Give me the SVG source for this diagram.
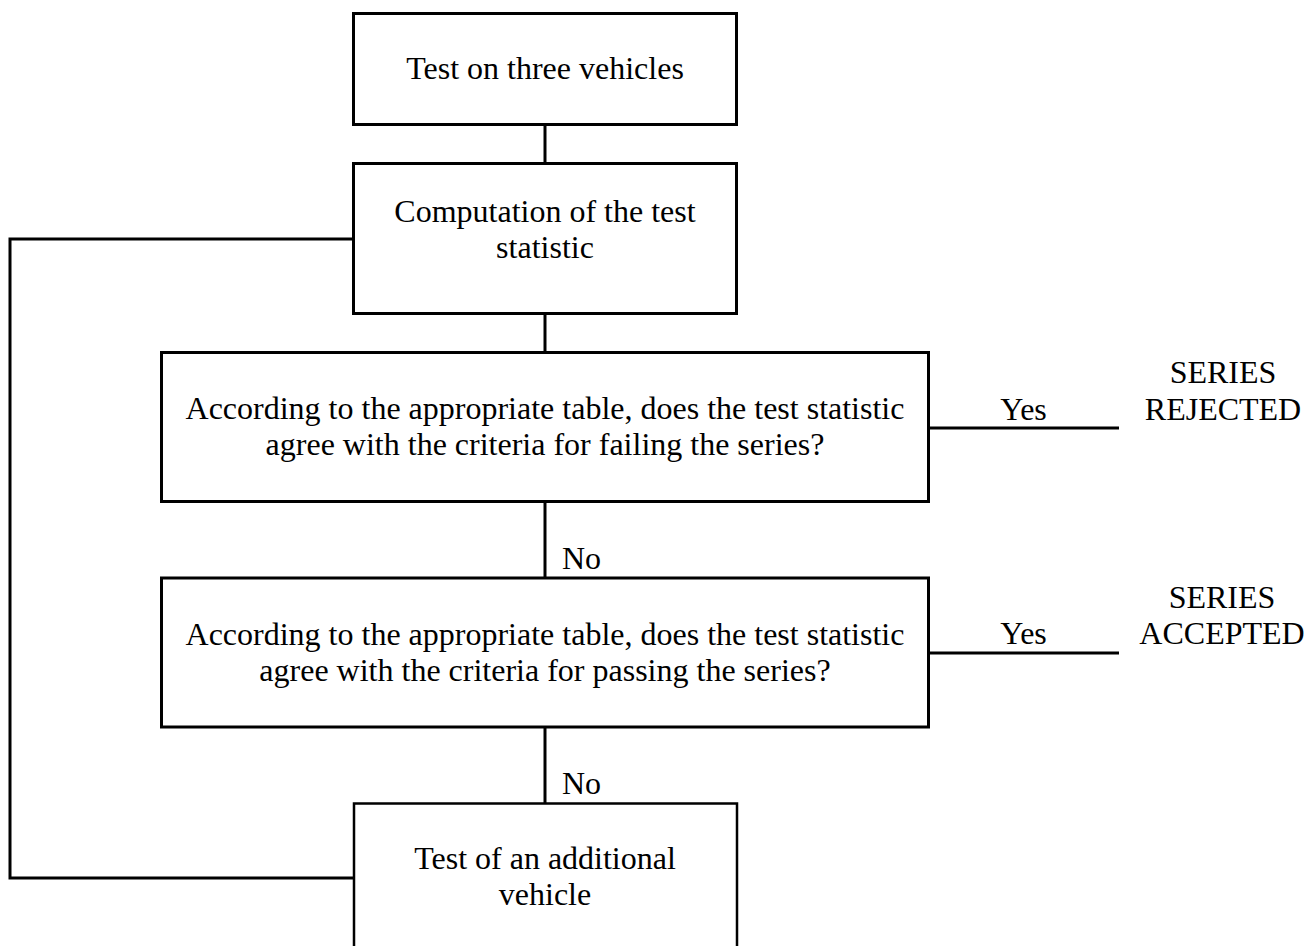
<svg xmlns="http://www.w3.org/2000/svg" width="1309" height="946" viewBox="0 0 1309 946">
<style>
.box{fill:#fff;stroke:#000;stroke-width:3}
.thin{stroke-width:2.5}
.ln{fill:none;stroke:#000;stroke-width:3}
text{font-family:"Liberation Serif","Times New Roman",serif;font-size:32px;fill:#000;text-anchor:middle}
.l{text-anchor:start}
</style>
<rect width="1309" height="946" fill="#fff"/>
<g id="connectors">
<line class="ln" x1="545" y1="124" x2="545" y2="163"/>
<line class="ln" x1="545" y1="314" x2="545" y2="352"/>
<line class="ln" x1="545" y1="501" x2="545" y2="578"/>
<line class="ln" x1="545" y1="727" x2="545" y2="803"/>
<polyline class="ln" points="353,239 10,239 10,878 354,878"/>
<line class="ln" x1="928" y1="428" x2="1119" y2="428"/>
<line class="ln" x1="928" y1="653" x2="1119" y2="653"/>
<text x="1023.5" y="420">Yes</text>
<text x="1023.5" y="644">Yes</text>
<text class="l" x="562" y="569">No</text>
<text class="l" x="562" y="794">No</text>
</g>
<g id="n1">
<rect class="box" x="353.5" y="13.5" width="383" height="111"/>
<text x="545" y="79">Test on three vehicles</text>
</g>
<g id="n2">
<rect class="box" x="353.5" y="163.5" width="383" height="150"/>
<text x="545" y="222">Computation of the test</text>
<text x="545" y="258">statistic</text>
</g>
<g id="n3">
<rect class="box" x="161.5" y="352.5" width="767" height="149"/>
<text x="545" y="419">According to the appropriate table, does the test statistic</text>
<text x="545" y="455">agree with the criteria for failing the series?</text>
</g>
<g id="n4">
<rect class="box" x="161.5" y="578" width="767" height="149"/>
<text x="545" y="645">According to the appropriate table, does the test statistic</text>
<text x="545" y="681">agree with the criteria for passing the series?</text>
</g>
<g id="n5">
<rect class="box thin" x="354" y="803.5" width="383" height="150"/>
<text x="545" y="869">Test of an additional</text>
<text x="545" y="905">vehicle</text>
</g>
<g id="rejected">
<text x="1223" y="383">SERIES</text>
<text x="1223" y="420">REJECTED</text>
</g>
<g id="accepted">
<text x="1222" y="608">SERIES</text>
<text x="1222" y="644">ACCEPTED</text>
</g>
</svg>
